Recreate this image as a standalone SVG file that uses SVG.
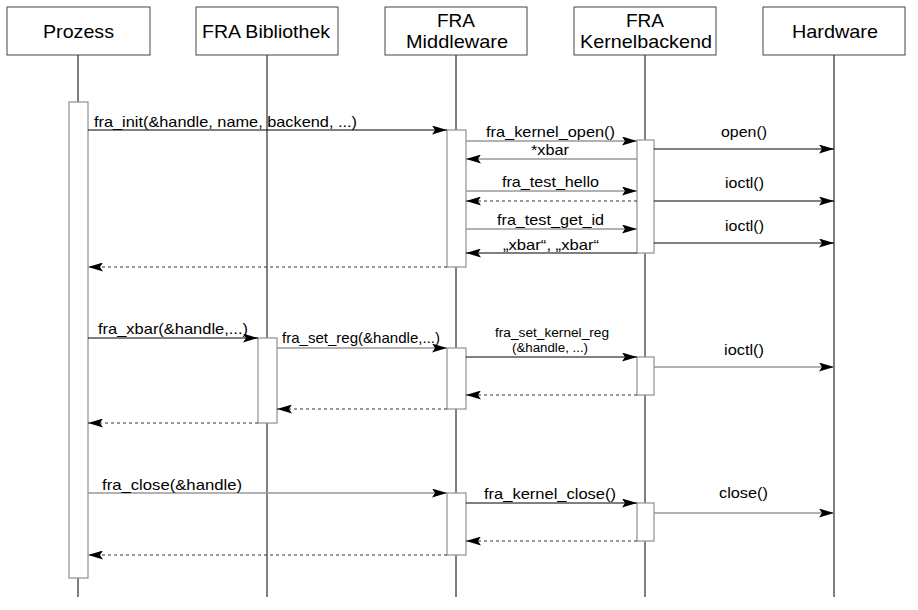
<svg xmlns="http://www.w3.org/2000/svg" width="918" height="610" viewBox="0 0 918 610">
<style>
.hdr{fill:#fff;stroke:#444;stroke-width:1}
.ht{font-family:"Liberation Sans",Arial,sans-serif;font-size:19px;fill:#000}
.life{stroke:#000;stroke-width:1}
.act{fill:#fff;stroke:#999;stroke-width:1.3}
.m{stroke:#000;stroke-width:1;fill:none;marker-end:url(#ah)}
.mg{stroke:#999;stroke-width:1.3;fill:none;marker-end:url(#ah)}
.r{stroke:#333;stroke-width:1;fill:none;stroke-dasharray:3,3;marker-end:url(#ah)}
.t{font-family:"Liberation Sans",Arial,sans-serif;font-size:15px;fill:#000}
.ts{font-family:"Liberation Sans",Arial,sans-serif;font-size:12px;fill:#000}
</style>
<defs>
<marker id="ah" markerWidth="15" markerHeight="9" refX="15" refY="4.5" orient="auto" markerUnits="userSpaceOnUse">
<path d="M0,0 L15,4.5 L0,9 L3,4.5 z" fill="#000"/>
</marker>
</defs>
<rect width="918" height="610" fill="#fff"/>
<g id="lifelines">
<line class="life" x1="78" y1="55" x2="78" y2="597"/>
<line class="life" x1="267" y1="55" x2="267" y2="597"/>
<line class="life" x1="456" y1="55" x2="456" y2="597"/>
<line class="life" x1="645" y1="55" x2="645" y2="597"/>
<line class="life" x1="834" y1="55" x2="834" y2="597"/>
</g>
<g id="prozess"><rect class="hdr" x="7" y="7" width="143" height="48"/><text class="ht" x="43" y="38" textLength="71" lengthAdjust="spacingAndGlyphs">Prozess</text></g>
<g id="bibliothek"><rect class="hdr" x="196" y="7" width="142" height="48"/><text class="ht" x="202" y="38" textLength="128" lengthAdjust="spacingAndGlyphs">FRA Bibliothek</text></g>
<g id="middleware"><rect class="hdr" x="385" y="7" width="142" height="48"/><text class="ht" x="437" y="27" textLength="38" lengthAdjust="spacingAndGlyphs">FRA</text><text class="ht" x="406" y="48" textLength="102" lengthAdjust="spacingAndGlyphs">Middleware</text></g>
<g id="kernelbackend"><rect class="hdr" x="574" y="7" width="142" height="48"/><text class="ht" x="626" y="27" textLength="38" lengthAdjust="spacingAndGlyphs">FRA</text><text class="ht" x="580" y="48" textLength="132" lengthAdjust="spacingAndGlyphs">Kernelbackend</text></g>
<g id="hardware"><rect class="hdr" x="763" y="7" width="142" height="48"/><text class="ht" x="792" y="38" textLength="86" lengthAdjust="spacingAndGlyphs">Hardware</text></g>
<g id="activations">
<rect class="act" x="69" y="102" width="19" height="476"/>
<rect class="act" x="447" y="130" width="19" height="137"/>
<rect class="act" x="637" y="140" width="17" height="113"/>
<rect class="act" x="258" y="338" width="19" height="85"/>
<rect class="act" x="447" y="348" width="19" height="61"/>
<rect class="act" x="637" y="357" width="17" height="38"/>
<rect class="act" x="447" y="493" width="19" height="62"/>
<rect class="act" x="637" y="503" width="17" height="38"/>
</g>
<g id="connectors">
<line class="m" x1="88" y1="130" x2="447" y2="130"/>
<line class="mg" x1="466" y1="141" x2="637" y2="141"/>
<line class="mg" x1="637" y1="159" x2="466" y2="159"/>
<line class="mg" x1="466" y1="191" x2="637" y2="191"/>
<line class="r" x1="637" y1="201" x2="466" y2="201"/>
<line class="mg" x1="466" y1="229" x2="637" y2="229"/>
<line class="m" x1="637" y1="253" x2="466" y2="253"/>
<line class="m" x1="654" y1="149" x2="834" y2="149"/>
<line class="m" x1="654" y1="201" x2="834" y2="201"/>
<line class="m" x1="654" y1="243" x2="834" y2="243"/>
<line class="r" x1="447" y1="267" x2="88" y2="267"/>
<line class="m" x1="88" y1="338" x2="258" y2="338"/>
<line class="mg" x1="277" y1="348" x2="447" y2="348"/>
<line class="m" x1="466" y1="357" x2="637" y2="357"/>
<line class="mg" x1="654" y1="367" x2="834" y2="367"/>
<line class="r" x1="637" y1="395" x2="466" y2="395"/>
<line class="r" x1="447" y1="409" x2="277" y2="409"/>
<line class="r" x1="258" y1="423" x2="88" y2="423"/>
<line class="mg" x1="88" y1="493" x2="447" y2="493"/>
<line class="m" x1="466" y1="503" x2="637" y2="503"/>
<line class="mg" x1="654" y1="513" x2="834" y2="513"/>
<line class="r" x1="637" y1="541" x2="466" y2="541"/>
<line class="r" x1="447" y1="555" x2="88" y2="555"/>
</g>
<g id="labels">
<text class="t" x="94" y="127" textLength="263" lengthAdjust="spacingAndGlyphs">fra_init(&amp;handle, name, backend, ...)</text>
<text class="t" x="486" y="137" textLength="129" lengthAdjust="spacingAndGlyphs">fra_kernel_open()</text>
<text class="t" x="531" y="155" textLength="38" lengthAdjust="spacingAndGlyphs">*xbar</text>
<text class="t" x="502" y="187" textLength="97" lengthAdjust="spacingAndGlyphs">fra_test_hello</text>
<text class="t" x="497" y="225" textLength="107" lengthAdjust="spacingAndGlyphs">fra_test_get_id</text>
<text class="t" x="503" y="250" textLength="96" lengthAdjust="spacingAndGlyphs">„xbar“, „xbar“</text>
<text class="t" x="721" y="137" textLength="46" lengthAdjust="spacingAndGlyphs">open()</text>
<text class="t" x="725" y="188" textLength="39" lengthAdjust="spacingAndGlyphs">ioctl()</text>
<text class="t" x="725" y="231" textLength="39" lengthAdjust="spacingAndGlyphs">ioctl()</text>
<text class="t" x="98" y="334" textLength="150" lengthAdjust="spacingAndGlyphs">fra_xbar(&amp;handle,...)</text>
<text class="t" x="282" y="343" textLength="158" lengthAdjust="spacingAndGlyphs">fra_set_reg(&amp;handle,...)</text>
<text class="ts" x="495" y="337" textLength="114" lengthAdjust="spacingAndGlyphs">fra_set_kernel_reg</text>
<text class="ts" x="512" y="352" textLength="76" lengthAdjust="spacingAndGlyphs">(&amp;handle, ...)</text>
<text class="t" x="724" y="355" textLength="40" lengthAdjust="spacingAndGlyphs">ioctl()</text>
<text class="t" x="102" y="490" textLength="140" lengthAdjust="spacingAndGlyphs">fra_close(&amp;handle)</text>
<text class="t" x="484" y="499" textLength="132" lengthAdjust="spacingAndGlyphs">fra_kernel_close()</text>
<text class="t" x="719" y="498" textLength="49" lengthAdjust="spacingAndGlyphs">close()</text>
</g>
</svg>
